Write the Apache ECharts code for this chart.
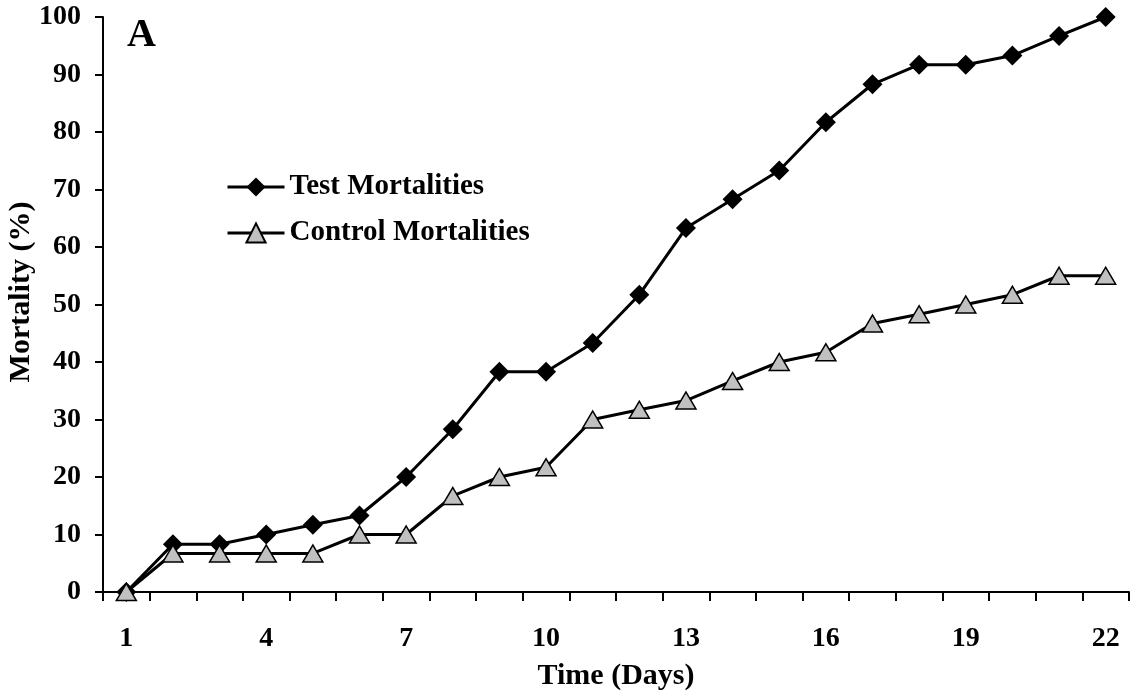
<!DOCTYPE html>
<html>
<head>
<meta charset="utf-8">
<script src="https://cdn.jsdelivr.net/npm/echarts@6/dist/echarts.min.js"></script>
<style>html,body{margin:0;padding:0;background:#fff;}#c{width:1136px;height:696px;}</style>
</head>
<body>
<div id="c"></div>
<script>
const days = ['1','2','3','4','5','6','7','8','9','10','11','12','13','14','15','16','17','18','19','20','21','22'];
const testMortalities = [0,8.3,8.3,10,11.7,13.3,20,28.3,38.3,38.3,43.3,51.7,63.3,68.3,73.3,81.7,88.3,91.7,91.7,93.3,96.7,100];
const controlMortalities = [0,6.7,6.7,6.7,6.7,10,10,16.7,20,21.7,30,31.7,33.3,36.7,40,41.7,46.7,48.3,50,51.7,55,55];
const yTicks = {min:0, max:100, interval:10};

const FONT = '"Liberation Serif", "Times New Roman", serif';
const chart = echarts.init(document.getElementById('c'), null, {renderer:'canvas'});
chart.setOption({
  animation:false,
  backgroundColor:'#fff',
  title:{text:'A', left:127, top:16, padding:0, textStyle:{fontFamily:FONT, fontWeight:'bold', fontSize:40, color:'#000'}},
  legend:{
    orient:'vertical', left:226, top:172, padding:0, itemWidth:57, itemHeight:24, itemGap:16,
    lineStyle:{width:3, color:'#000'},
    textStyle:{fontFamily:FONT, fontWeight:'bold', fontSize:29, lineHeight:30, color:'#000'},
    data:['Test Mortalities','Control Mortalities']
  },
  graphic:[{
    type:'text', x:21, y:292, rotation:Math.PI/2,
    style:{text:'Mortality (%)', fontFamily:FONT, fontWeight:'bold', fontSize:30, fill:'#000', align:'center', verticalAlign:'middle'}
  }],
  grid:{left:103, right:7, top:17, bottom:104, containLabel:false, outerBoundsMode:'none'},
  xAxis:{
    type:'category', data:days, boundaryGap:true,
    name:'Time (Days)', nameLocation:'middle', nameGap:69,
    nameTextStyle:{fontFamily:FONT, fontWeight:'bold', fontSize:30, color:'#000'},
    axisLine:{lineStyle:{color:'#000', width:2}},
    axisTick:{show:true, interval:0, length:9, lineStyle:{color:'#000', width:2}},
    axisLabel:{interval:2, margin:33, fontFamily:FONT, fontWeight:'bold', fontSize:28, color:'#000'},
    splitLine:{show:false}
  },
  yAxis:{
    type:'value', min:yTicks.min, max:yTicks.max, interval:yTicks.interval,
    axisLine:{show:true, lineStyle:{color:'#000', width:2}},
    axisTick:{show:true, length:8, lineStyle:{color:'#000', width:2}},
    axisLabel:{margin:22, fontFamily:FONT, fontWeight:'bold', fontSize:28, color:'#000'},
    splitLine:{show:false}
  },
  series:[
    {name:'Test Mortalities', type:'line', data:testMortalities,
     symbol:'diamond', symbolSize:[20,20],
     lineStyle:{color:'#000', width:3}, itemStyle:{color:'#000', borderColor:'#000', borderWidth:0}},
    {name:'Control Mortalities', type:'line', data:controlMortalities,
     symbol:'triangle', symbolSize:[20,17],
     lineStyle:{color:'#000', width:3}, itemStyle:{color:'#c0c0c0', borderColor:'#000', borderWidth:1.5}}
  ]
});
</script>
</body>
</html>
